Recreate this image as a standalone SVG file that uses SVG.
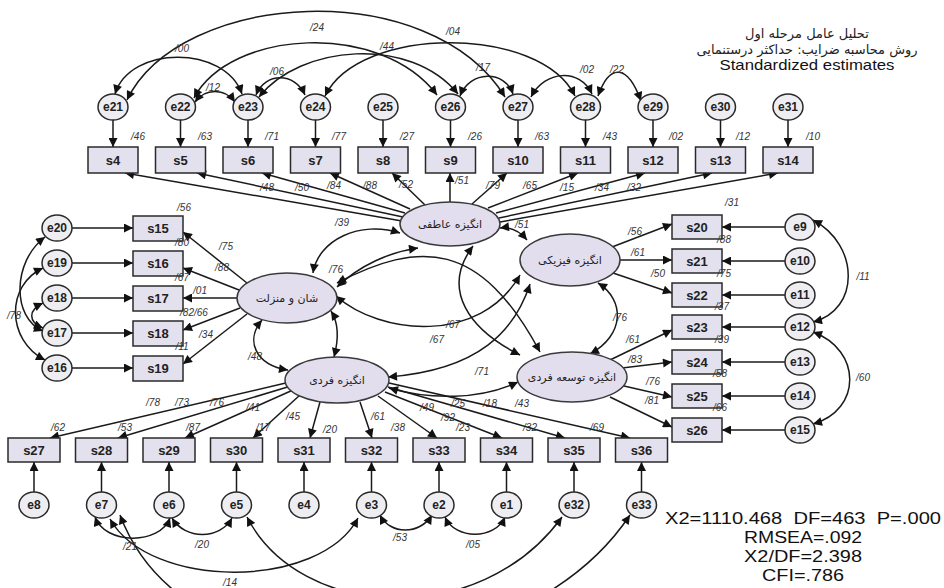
<svg xmlns="http://www.w3.org/2000/svg" width="944" height="588" viewBox="0 0 944 588">
<style>
.bx{fill:#e4e1ef;stroke:#2a2a2a;stroke-width:1.5}
.er{fill:#eeeef2;stroke:#2a2a2a;stroke-width:1.5}
.lv{fill:#e3deee;stroke:#3a3a3a;stroke-width:1.5}
.bt{font-family:"Liberation Sans",Arial,sans-serif;font-size:13px;font-weight:bold;fill:#222;text-anchor:middle}
.et{font-family:"Liberation Sans",Arial,sans-serif;font-size:12px;font-weight:bold;fill:#222;text-anchor:middle}
.lt{font-family:"DejaVu Sans","Noto Sans",sans-serif;font-size:11px;fill:#222;text-anchor:middle}
.nl{font-family:"Liberation Sans",Arial,sans-serif;font-size:10px;font-style:italic;fill:#333;text-anchor:middle}
.st{font-family:"Liberation Sans",Arial,sans-serif;font-size:16px;fill:#111;text-anchor:middle}
#conn line,#conn path{stroke:#1a1a1a;stroke-width:1.5;fill:none}
.a{marker-end:url(#ah)}
.d{marker-start:url(#ah);marker-end:url(#ah)}
</style>
<defs>
<marker id="ah" viewBox="0 0 10 10" refX="10" refY="5" markerWidth="12" markerHeight="9" markerUnits="userSpaceOnUse" orient="auto-start-reverse"><path d="M0,0 L10,5 L0,10 z" fill="#111"/></marker>
</defs>
<rect width="944" height="588" fill="#fff"/>

<g id="conn">
<!-- top e -> s -->
<line class="a" x1="113" y1="120" x2="113" y2="147"/>
<line class="a" x1="180.5" y1="120" x2="180.5" y2="147"/>
<line class="a" x1="248" y1="120" x2="248" y2="147"/>
<line class="a" x1="315.5" y1="120" x2="315.5" y2="147"/>
<line class="a" x1="383" y1="120" x2="383" y2="147"/>
<line class="a" x1="450.5" y1="120" x2="450.5" y2="147"/>
<line class="a" x1="518" y1="120" x2="518" y2="147"/>
<line class="a" x1="585.5" y1="120" x2="585.5" y2="147"/>
<line class="a" x1="653" y1="120" x2="653" y2="147"/>
<line class="a" x1="720.5" y1="120" x2="720.5" y2="147"/>
<line class="a" x1="788" y1="120" x2="788" y2="147"/>
<!-- top correlations -->
<path class="d" d="M127,100 C180,-10 430,-25 505,97"/>
<path class="d" d="M194,98 C230,30 380,20 437,95"/>
<path class="d" d="M115,94 C130,45 225,45 242,94"/>
<path class="d" d="M195,102 C205,88 225,88 235,102"/>
<path class="d" d="M256,95 C265,72 295,72 305,95"/>
<path class="d" d="M325,96 C360,25 540,25 575,96"/>
<path class="d" d="M259,97 C300,45 410,35 458,94"/>
<path class="d" d="M460,96 C470,70 505,70 513,94"/>
<path class="d" d="M531,97 C545,70 580,68 592,94"/>
<path class="d" d="M598,96 C610,62 628,65 641,101"/>
<!-- emotional -> top boxes -->
<line class="a" x1="402" y1="221" x2="125" y2="173"/>
<line class="a" x1="403" y1="217" x2="197" y2="173"/>
<line class="a" x1="405" y1="213" x2="262" y2="173"/>
<line class="a" x1="410" y1="209" x2="330" y2="173"/>
<line class="a" x1="425" y1="205" x2="392" y2="173"/>
<line class="a" x1="450" y1="202" x2="450" y2="173"/>
<line class="a" x1="472" y1="204" x2="507" y2="173"/>
<line class="a" x1="488" y1="208" x2="578" y2="173"/>
<line class="a" x1="496" y1="213" x2="645" y2="173"/>
<line class="a" x1="499" y1="218" x2="712" y2="173"/>
<line class="a" x1="500" y1="222" x2="778" y2="173"/>
<!-- left e -> s -->
<line class="a" x1="72" y1="228" x2="133" y2="228"/>
<line class="a" x1="72" y1="263" x2="133" y2="263"/>
<line class="a" x1="72" y1="298" x2="133" y2="298"/>
<line class="a" x1="72" y1="333" x2="133" y2="333"/>
<line class="a" x1="72" y1="368" x2="133" y2="368"/>
<path class="d" d="M45,237 C12,262 12,318 43,331"/>
<path class="d" d="M45,360 C6,340 6,285 43,268"/>
<path class="d" d="M43,303 C28,310 28,322 43,328"/>
<!-- status -> left boxes -->
<line class="a" x1="247" y1="283" x2="183" y2="232"/>
<line class="a" x1="239" y1="290" x2="183" y2="268"/>
<line class="a" x1="237" y1="298" x2="183" y2="298"/>
<line class="a" x1="240" y1="308" x2="183" y2="330"/>
<line class="a" x1="247" y1="314" x2="183" y2="364"/>
<!-- right e -> s -->
<line class="a" x1="785" y1="227" x2="722" y2="227"/>
<line class="a" x1="785" y1="261" x2="722" y2="261"/>
<line class="a" x1="785" y1="295" x2="722" y2="295"/>
<line class="a" x1="785" y1="327" x2="722" y2="327"/>
<line class="a" x1="785" y1="362" x2="722" y2="362"/>
<line class="a" x1="785" y1="396" x2="722" y2="396"/>
<line class="a" x1="785" y1="430" x2="722" y2="430"/>
<path class="d" d="M813,220 C860,245 860,310 813,322"/>
<path class="d" d="M813,332 C862,350 862,410 813,424"/>
<!-- physical -> boxes -->
<line class="a" x1="612" y1="247" x2="672" y2="224"/>
<line class="a" x1="620" y1="260" x2="672" y2="260"/>
<line class="a" x1="613" y1="273" x2="672" y2="293"/>
<!-- development -> boxes -->
<line class="a" x1="610" y1="360" x2="672" y2="330"/>
<line class="a" x1="622" y1="368" x2="672" y2="362"/>
<line class="a" x1="624" y1="386" x2="672" y2="397"/>
<line class="a" x1="610" y1="397" x2="672" y2="427"/>
<!-- individual -> bottom boxes -->
<line class="a" x1="290" y1="382" x2="50" y2="438"/>
<line class="a" x1="291" y1="386" x2="118" y2="438"/>
<line class="a" x1="293" y1="390" x2="185" y2="438"/>
<line class="a" x1="300" y1="395" x2="253" y2="438"/>
<line class="a" x1="320" y1="402" x2="310" y2="438"/>
<line class="a" x1="360" y1="402" x2="372" y2="438"/>
<line class="a" x1="378" y1="396" x2="437" y2="438"/>
<line class="a" x1="385" y1="392" x2="502" y2="438"/>
<line class="a" x1="388" y1="387" x2="565" y2="438"/>
<line class="a" x1="389" y1="383" x2="630" y2="438"/>
<!-- bottom e -> s -->
<line class="a" x1="34" y1="492" x2="34" y2="462"/>
<line class="a" x1="101.5" y1="492" x2="101.5" y2="462"/>
<line class="a" x1="169" y1="492" x2="169" y2="462"/>
<line class="a" x1="236.5" y1="492" x2="236.5" y2="462"/>
<line class="a" x1="304" y1="492" x2="304" y2="462"/>
<line class="a" x1="371.5" y1="492" x2="371.5" y2="462"/>
<line class="a" x1="439" y1="492" x2="439" y2="462"/>
<line class="a" x1="506.5" y1="492" x2="506.5" y2="462"/>
<line class="a" x1="574" y1="492" x2="574" y2="462"/>
<line class="a" x1="641.5" y1="492" x2="641.5" y2="462"/>
<!-- bottom correlations -->
<path class="d" d="M95,517 C105,545 160,545 170,518"/>
<path class="d" d="M172,518 C185,540 220,540 232,518"/>
<path class="d" d="M380,515 C390,535 420,535 432,515"/>
<path class="d" d="M445,517 C455,540 495,540 505,517"/>
<path class="d" d="M110,519 C150,590 320,590 358,518"/>
<path class="d" d="M120,515 C190,700 520,680 630,515"/>
<path class="d" d="M247,517 C300,620 480,630 562,517"/>
<!-- latent correlations -->
<path class="d" d="M313,273 C318,240 360,220 400,233"/>
<path class="d" d="M337,287 C360,265 390,252 418,248"/>
<path class="d" d="M337,283 C420,240 480,240 540,352"/>
<path class="d" d="M336,296 C380,335 480,345 520,275"/>
<path class="d" d="M262,320 C245,340 255,365 288,370"/>
<path class="d" d="M331,311 C340,325 338,342 334,357"/>
<path class="d" d="M500,228 Q515,226 527,240"/>
<path class="d" d="M473,246 C440,290 470,330 520,355"/>
<path class="d" d="M598,283 C625,300 625,335 590,354"/>
<path class="d" d="M530,284 C515,330 480,370 388,377"/>
<path class="d" d="M389,388 C430,400 480,400 518,382"/>
</g>

<!-- latent variables -->
<g id="emotional"><ellipse class="lv" cx="450" cy="224" rx="50" ry="22"/><text class="lt" x="450" y="228">انگیزه عاطفی</text></g>
<g id="status"><ellipse class="lv" cx="287" cy="298" rx="50" ry="25"/><text class="lt" x="287" y="302">شان و منزلت</text></g>
<g id="physical"><ellipse class="lv" cx="570" cy="260" rx="50" ry="26"/><text class="lt" x="570" y="264">انگیزه فیزیکی</text></g>
<g id="individual"><ellipse class="lv" cx="337" cy="380" rx="52" ry="23"/><text class="lt" x="337" y="384">انگیزه فردی</text></g>
<g id="development"><ellipse class="lv" cx="572" cy="377" rx="55" ry="25"/><text class="lt" x="572" y="381">انگیزه توسعه فردی</text></g>

<!-- top row -->
<g id="s4"><rect class="bx" x="88" y="147" width="50" height="26"/><text class="bt" x="113" y="165">s4</text></g>
<g id="s5"><rect class="bx" x="155.5" y="147" width="50" height="26"/><text class="bt" x="180.5" y="165">s5</text></g>
<g id="s6"><rect class="bx" x="223" y="147" width="50" height="26"/><text class="bt" x="248" y="165">s6</text></g>
<g id="s7"><rect class="bx" x="290.5" y="147" width="50" height="26"/><text class="bt" x="315.5" y="165">s7</text></g>
<g id="s8"><rect class="bx" x="358" y="147" width="50" height="26"/><text class="bt" x="383" y="165">s8</text></g>
<g id="s9"><rect class="bx" x="425.5" y="147" width="50" height="26"/><text class="bt" x="450.5" y="165">s9</text></g>
<g id="s10"><rect class="bx" x="493" y="147" width="50" height="26"/><text class="bt" x="518" y="165">s10</text></g>
<g id="s11"><rect class="bx" x="560.5" y="147" width="50" height="26"/><text class="bt" x="585.5" y="165">s11</text></g>
<g id="s12"><rect class="bx" x="628" y="147" width="50" height="26"/><text class="bt" x="653" y="165">s12</text></g>
<g id="s13"><rect class="bx" x="695.5" y="147" width="50" height="26"/><text class="bt" x="720.5" y="165">s13</text></g>
<g id="s14"><rect class="bx" x="763" y="147" width="50" height="26"/><text class="bt" x="788" y="165">s14</text></g>

<g id="e21"><ellipse class="er" cx="113" cy="107" rx="15" ry="13"/><text class="et" x="113" y="111">e21</text></g>
<g id="e22"><ellipse class="er" cx="180.5" cy="107" rx="15" ry="13"/><text class="et" x="180.5" y="111">e22</text></g>
<g id="e23"><ellipse class="er" cx="248" cy="107" rx="15" ry="13"/><text class="et" x="248" y="111">e23</text></g>
<g id="e24"><ellipse class="er" cx="315.5" cy="107" rx="15" ry="13"/><text class="et" x="315.5" y="111">e24</text></g>
<g id="e25"><ellipse class="er" cx="383" cy="107" rx="15" ry="13"/><text class="et" x="383" y="111">e25</text></g>
<g id="e26"><ellipse class="er" cx="450.5" cy="107" rx="15" ry="13"/><text class="et" x="450.5" y="111">e26</text></g>
<g id="e27"><ellipse class="er" cx="518" cy="107" rx="15" ry="13"/><text class="et" x="518" y="111">e27</text></g>
<g id="e28"><ellipse class="er" cx="585.5" cy="107" rx="15" ry="13"/><text class="et" x="585.5" y="111">e28</text></g>
<g id="e29"><ellipse class="er" cx="653" cy="107" rx="15" ry="13"/><text class="et" x="653" y="111">e29</text></g>
<g id="e30"><ellipse class="er" cx="720.5" cy="107" rx="15" ry="13"/><text class="et" x="720.5" y="111">e30</text></g>
<g id="e31"><ellipse class="er" cx="788" cy="107" rx="15" ry="13"/><text class="et" x="788" y="111">e31</text></g>

<!-- left column -->
<g id="s15"><rect class="bx" x="133" y="216" width="50" height="25"/><text class="bt" x="158" y="233">s15</text></g>
<g id="s16"><rect class="bx" x="133" y="251" width="50" height="25"/><text class="bt" x="158" y="268">s16</text></g>
<g id="s17"><rect class="bx" x="133" y="286" width="50" height="25"/><text class="bt" x="158" y="303">s17</text></g>
<g id="s18"><rect class="bx" x="133" y="321" width="50" height="25"/><text class="bt" x="158" y="338">s18</text></g>
<g id="s19"><rect class="bx" x="133" y="356" width="50" height="25"/><text class="bt" x="158" y="373">s19</text></g>
<g id="e20"><ellipse class="er" cx="57" cy="228" rx="15" ry="13"/><text class="et" x="57" y="232">e20</text></g>
<g id="e19"><ellipse class="er" cx="57" cy="263" rx="15" ry="13"/><text class="et" x="57" y="267">e19</text></g>
<g id="e18"><ellipse class="er" cx="57" cy="298" rx="15" ry="13"/><text class="et" x="57" y="302">e18</text></g>
<g id="e17"><ellipse class="er" cx="57" cy="333" rx="15" ry="13"/><text class="et" x="57" y="337">e17</text></g>
<g id="e16"><ellipse class="er" cx="57" cy="368" rx="15" ry="13"/><text class="et" x="57" y="372">e16</text></g>

<!-- right column -->
<g id="s20"><rect class="bx" x="672" y="215" width="50" height="24"/><text class="bt" x="697" y="232">s20</text></g>
<g id="s21"><rect class="bx" x="672" y="249" width="50" height="24"/><text class="bt" x="697" y="266">s21</text></g>
<g id="s22"><rect class="bx" x="672" y="283" width="50" height="24"/><text class="bt" x="697" y="300">s22</text></g>
<g id="s23"><rect class="bx" x="672" y="315" width="50" height="24"/><text class="bt" x="697" y="332">s23</text></g>
<g id="s24"><rect class="bx" x="672" y="350" width="50" height="24"/><text class="bt" x="697" y="367">s24</text></g>
<g id="s25"><rect class="bx" x="672" y="384" width="50" height="24"/><text class="bt" x="697" y="401">s25</text></g>
<g id="s26"><rect class="bx" x="672" y="418" width="50" height="24"/><text class="bt" x="697" y="435">s26</text></g>
<g id="e9"><ellipse class="er" cx="800" cy="227" rx="15" ry="13"/><text class="et" x="800" y="231">e9</text></g>
<g id="e10"><ellipse class="er" cx="800" cy="261" rx="15" ry="13"/><text class="et" x="800" y="265">e10</text></g>
<g id="e11"><ellipse class="er" cx="800" cy="295" rx="15" ry="13"/><text class="et" x="800" y="299">e11</text></g>
<g id="e12"><ellipse class="er" cx="800" cy="327" rx="15" ry="13"/><text class="et" x="800" y="331">e12</text></g>
<g id="e13"><ellipse class="er" cx="800" cy="362" rx="15" ry="13"/><text class="et" x="800" y="366">e13</text></g>
<g id="e14"><ellipse class="er" cx="800" cy="396" rx="15" ry="13"/><text class="et" x="800" y="400">e14</text></g>
<g id="e15"><ellipse class="er" cx="800" cy="430" rx="15" ry="13"/><text class="et" x="800" y="434">e15</text></g>

<!-- bottom row -->
<g id="s27"><rect class="bx" x="8" y="438" width="52" height="24"/><text class="bt" x="34" y="455">s27</text></g>
<g id="s28"><rect class="bx" x="75.5" y="438" width="52" height="24"/><text class="bt" x="101.5" y="455">s28</text></g>
<g id="s29"><rect class="bx" x="143" y="438" width="52" height="24"/><text class="bt" x="169" y="455">s29</text></g>
<g id="s30"><rect class="bx" x="210.5" y="438" width="52" height="24"/><text class="bt" x="236.5" y="455">s30</text></g>
<g id="s31"><rect class="bx" x="278" y="438" width="52" height="24"/><text class="bt" x="304" y="455">s31</text></g>
<g id="s32"><rect class="bx" x="345.5" y="438" width="52" height="24"/><text class="bt" x="371.5" y="455">s32</text></g>
<g id="s33"><rect class="bx" x="413" y="438" width="52" height="24"/><text class="bt" x="439" y="455">s33</text></g>
<g id="s34"><rect class="bx" x="480.5" y="438" width="52" height="24"/><text class="bt" x="506.5" y="455">s34</text></g>
<g id="s35"><rect class="bx" x="548" y="438" width="52" height="24"/><text class="bt" x="574" y="455">s35</text></g>
<g id="s36"><rect class="bx" x="615.5" y="438" width="52" height="24"/><text class="bt" x="641.5" y="455">s36</text></g>
<g id="e8"><ellipse class="er" cx="34" cy="505" rx="15" ry="13"/><text class="et" x="34" y="509">e8</text></g>
<g id="e7"><ellipse class="er" cx="101.5" cy="505" rx="15" ry="13"/><text class="et" x="101.5" y="509">e7</text></g>
<g id="e6"><ellipse class="er" cx="169" cy="505" rx="15" ry="13"/><text class="et" x="169" y="509">e6</text></g>
<g id="e5"><ellipse class="er" cx="236.5" cy="505" rx="15" ry="13"/><text class="et" x="236.5" y="509">e5</text></g>
<g id="e4"><ellipse class="er" cx="304" cy="505" rx="15" ry="13"/><text class="et" x="304" y="509">e4</text></g>
<g id="e3"><ellipse class="er" cx="371.5" cy="505" rx="15" ry="13"/><text class="et" x="371.5" y="509">e3</text></g>
<g id="e2"><ellipse class="er" cx="439" cy="505" rx="15" ry="13"/><text class="et" x="439" y="509">e2</text></g>
<g id="e1"><ellipse class="er" cx="506.5" cy="505" rx="15" ry="13"/><text class="et" x="506.5" y="509">e1</text></g>
<g id="e32"><ellipse class="er" cx="574" cy="505" rx="15" ry="13"/><text class="et" x="574" y="509">e32</text></g>
<g id="e33"><ellipse class="er" cx="641.5" cy="505" rx="15" ry="13"/><text class="et" x="641.5" y="509">e33</text></g>

<!-- numeric labels -->
<g id="labels">
<text class="nl" x="138" y="140">/46</text><text class="nl" x="205" y="140">/63</text><text class="nl" x="272" y="140">/71</text>
<text class="nl" x="339" y="140">/77</text><text class="nl" x="407" y="140">/27</text><text class="nl" x="475" y="140">/26</text>
<text class="nl" x="542" y="140">/63</text><text class="nl" x="610" y="140">/43</text><text class="nl" x="676" y="140">/02</text>
<text class="nl" x="743" y="140">/12</text><text class="nl" x="813" y="140">/10</text>
<text class="nl" x="182" y="52">/00</text><text class="nl" x="213" y="91">/12</text><text class="nl" x="277" y="75">/06</text>
<text class="nl" x="317" y="31">/24</text><text class="nl" x="387" y="50">/44</text><text class="nl" x="453" y="35">/04</text>
<text class="nl" x="483" y="71">/17</text><text class="nl" x="587" y="73">/02</text><text class="nl" x="617" y="73">/22</text>
<text class="nl" x="267" y="191">/48</text><text class="nl" x="302" y="191">/50</text><text class="nl" x="334" y="189">/84</text>
<text class="nl" x="370" y="189">/88</text><text class="nl" x="406" y="188">/52</text><text class="nl" x="462" y="184">/51</text>
<text class="nl" x="493" y="189">/79</text><text class="nl" x="530" y="189">/65</text><text class="nl" x="567" y="191">/15</text>
<text class="nl" x="602" y="191">/34</text><text class="nl" x="634" y="191">/32</text>
<text class="nl" x="184" y="211">/56</text><text class="nl" x="182" y="246">/80</text><text class="nl" x="226" y="250">/75</text>
<text class="nl" x="222" y="271">/88</text><text class="nl" x="182" y="281">/67</text><text class="nl" x="200" y="294">/01</text>
<text class="nl" x="194" y="316">/82/66</text><text class="nl" x="206" y="338">/34</text><text class="nl" x="182" y="350">/11</text>
<text class="nl" x="14" y="319">/78</text>
<text class="nl" x="342" y="226">/39</text><text class="nl" x="336" y="273">/76</text><text class="nl" x="453" y="328">/67</text>
<text class="nl" x="437" y="343">/67</text><text class="nl" x="255" y="360">/48</text><text class="nl" x="522" y="228">/51</text>
<text class="nl" x="482" y="375">/71</text><text class="nl" x="620" y="321">/76</text>
<text class="nl" x="732" y="206">/31</text><text class="nl" x="724" y="243">/88</text><text class="nl" x="724" y="277">/75</text>
<text class="nl" x="722" y="310">/37</text><text class="nl" x="722" y="343">/39</text><text class="nl" x="720" y="377">/58</text>
<text class="nl" x="720" y="411">/66</text>
<text class="nl" x="635" y="235">/56</text><text class="nl" x="638" y="256">/61</text><text class="nl" x="658" y="277">/50</text>
<text class="nl" x="633" y="343">/61</text><text class="nl" x="635" y="363">/83</text><text class="nl" x="653" y="385">/76</text>
<text class="nl" x="652" y="404">/81</text>
<text class="nl" x="863" y="280">/11</text><text class="nl" x="863" y="381">/60</text>
<text class="nl" x="153" y="406">/78</text><text class="nl" x="182" y="406">/73</text><text class="nl" x="217" y="406">/76</text>
<text class="nl" x="253" y="411">/41</text><text class="nl" x="293" y="420">/45</text><text class="nl" x="378" y="420">/61</text>
<text class="nl" x="427" y="411">/49</text><text class="nl" x="448" y="421">/92</text><text class="nl" x="458" y="407">/25</text>
<text class="nl" x="490" y="407">/18</text><text class="nl" x="522" y="407">/43</text>
<text class="nl" x="58" y="431">/62</text><text class="nl" x="125" y="431">/53</text><text class="nl" x="193" y="431">/87</text>
<text class="nl" x="263" y="431">/17</text><text class="nl" x="330" y="433">/20</text><text class="nl" x="398" y="431">/38</text>
<text class="nl" x="463" y="431">/23</text><text class="nl" x="530" y="431">/32</text><text class="nl" x="597" y="431">/69</text>
<text class="nl" x="130" y="550">/21</text><text class="nl" x="202" y="548">/20</text><text class="nl" x="400" y="541">/53</text>
<text class="nl" x="473" y="548">/05</text><text class="nl" x="230" y="586">/14</text>
</g>

<g id="title">
<text class="lt" x="807" y="38" style="font-size:13px">تحلیل عامل مرحله اول</text>
<text class="lt" x="807" y="54" style="font-size:13px">روش محاسبه ضرایب: حداکثر درستنمایی</text>
<text class="st" x="807" y="70" style="font-size:15px" textLength="175" lengthAdjust="spacingAndGlyphs">Standardized estimates</text>
</g>
<g id="fit">
<text class="st" x="803" y="524" xml:space="preserve" textLength="276" lengthAdjust="spacingAndGlyphs">X2=1110.468  DF=463  P=.000</text>
<text class="st" x="803" y="543" textLength="118" lengthAdjust="spacingAndGlyphs">RMSEA=.092</text>
<text class="st" x="803" y="562" textLength="118" lengthAdjust="spacingAndGlyphs">X2/DF=2.398</text>
<text class="st" x="803" y="581" textLength="82" lengthAdjust="spacingAndGlyphs">CFI=.786</text>
</g>
</svg>
